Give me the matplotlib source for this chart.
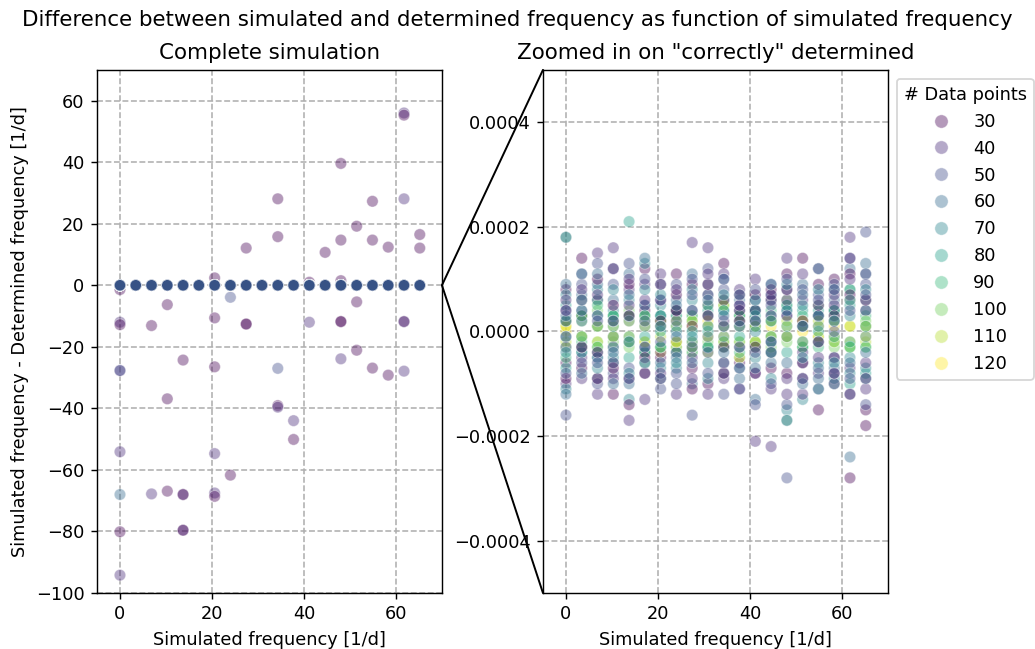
import numpy as np
import matplotlib.pyplot as plt
from matplotlib.patches import ConnectionPatch
from matplotlib.lines import Line2D

# simulated frequencies [1/d]
freqs = [0.0, 3.43, 6.86, 10.29, 13.72, 17.15, 20.58, 24.01, 27.44, 30.87,
         34.31, 37.74, 41.17, 44.6, 48.03, 51.46, 54.89, 58.32, 61.75, 65.18]
n_points = [30, 40, 50, 60, 70, 80, 90, 100, 110, 120]

# correctly determined runs: difference in units of 1e-5 1/d, one row per repetition
dev_30 = [[8, 14, 6, 12, -9, 12, -5, 11, 9, 5, 13, -6, -8, -7, 3, 14, -15, 10, -28, -18],
          [-6, -7, 10, -12, -14, 4, 9, -4, -7, -10, 6, 7, 4, 6, -8, -9, 9, -5, -12, -15],
          [2, -3, -9, 5, 3, -8, 2, 7, 1, 3, -3, 2, -3, 8, 11, 2, -2, 3, 7, -9],
          [-9, 6, -4, -7, 9, -5, -9, 4, -11, 9, -8, 4, 7, -4, 8, -6, 5, -8, 11, 6]]
dev_40 = [[-10, 3, 15, 16, 8, -13, 11, -2, 17, 16, 11, 8, 10, -11, 14, 6, 12, 8, 18, 11],
          [6, -5, -12, -9, -17, 9, -4, -12, -5, -12, -9, -11, -21, -22, -9, -12, -8, -10, -7, 4],
          [-1, 8, 3, 2, 5, -3, 6, 4, 4, 7, 2, -3, 2, 3, 6, -4, 3, 5, 14, -6],
          [4, -9, 7, -6, 10, 6, -8, 8, -9, 11, -6, 5, -8, 7, -12, 11, -5, 7, 10, -11]]
dev_50 = [[-16, 9, 13, -8, 13, 5, -11, 9, -16, 12, 8, 5, 6, 9, -28, 8, 7, 9, 14, 19],
          [4, -6, -10, 9, -7, -8, 6, -8, 10, -4, -12, -11, -14, 5, -14, -6, -11, -5, -12, -14],
          [-3, 4, 2, -3, 3, 2, -2, 2, -3, 3, 1, 2, -4, -2, 3, 1, -2, 0, 4, 9],
          [-8, 11, -6, 12, -9, 10, 9, -10, 7, -8, 10, -7, 8, -10, 10, -9, 6, -8, -9, 7]]
dev_60 = [[18, 7, 9, 6, 11, 14, 3, 6, 11, -3, 10, 6, -13, 7, 8, 9, 12, 6, 12, 13],
          [-12, -3, -9, -10, -10, 5, -6, -5, -10, 9, -8, -9, 4, -6, -17, -10, -9, -7, -24, 11],
          [3, 2, -5, 2, -2, -3, 1, -1, 4, -1, 3, 1, 2, -2, 4, 1, 3, 2, -6, -4],
          [9, -8, 11, -4, 7, -6, -9, 5, -6, 6, -4, 7, -7, 9, -6, 7, -7, 8, 6, -9]]
dev_70 = [[7, 11, 8, 4, -13, 13, 5, 3, 6, 7, 4, -5, 4, 6, -15, -13, -6, -9, 8, 6],
          [-11, -4, -5, -5, 6, -4, -7, -7, -2, -6, -6, 4, -5, -9, 5, 5, 3, 4, -5, -7],
          [-1, 3, 3, -1, 2, 1, 1, 0, -1, 1, -1, 1, 0, 2, -1, -2, 1, 2, 3, -1],
          [-4, 6, -7, 8, -8, 8, 7, -6, 8, -9, 7, -7, 6, -4, 9, -5, 8, -6, -8, 8]]
dev_80 = [[5, -4, 6, -6, 21, -4, -3, 4, -4, 4, -3, 3, -3, -4, 4, 4, -11, -10, -10, -8],
          [-7, 4, -4, 3, -5, 3, 3, -4, 3, -3, 4, -3, 3, 3, -4, -3, 4, 4, 5, 4],
          [2, -1, 1, 1, -1, -1, 0, 1, 0, 0, 1, -1, 1, -1, 1, 1, 0, -1, -2, 1]]
dev_90 = [[18, 3, 5, -3, 3, -6, 3, -3, -3, 5, 6, -4, 4, 4, -17, 3, 5, 3, 8, 3],
          [-5, -2, -3, 3, -2, 3, -3, 3, 2, -3, -2, 3, -2, -2, 5, -3, -3, -2, -3, -3]]
dev_100 = [[2, 2, 4, 3, 4, -4, 2, 4, -4, 3, 5, 3, 2, -3, 6, 2, 3, 4, 6, -3],
           [-3, -3, -2, -2, -3, 2, -3, -2, 3, -2, -3, -2, -3, 2, -2, -3, -2, -3, -3, 2]]
dev_110 = [[1, 3, -3, 2, -2, 3, 2, -3, -2, -4, 5, -2, 1, 2, 2, 1, -1, 2, -3, -2],
           [-2, -1, 1, -1, 3, -2, -1, 2, 2, 1, -2, 2, -2, -1, -1, -2, 2, -2, 1, 1]]
dev_120 = [[0, 3, -2, 1, -1, -2, -4, 1, -3, 2, -1, -5, -2, 1, 1, 0, -1, 1, -2, 1],
           [1, -1, 1, -1, 2, 1, 1, -2, 1, -1, 1, 1, 1, -1, -1, 2, 1, -1, 1, -1]]

# wrongly determined runs (index into freqs, difference [1/d], # data points)
out_idx = [18, 18, 14, 10, 18, 16, 15, 19, 10, 14, 16, 8, 17, 19, 13, 6, 14, 12,
           0, 7, 15, 3, 6, 0, 0, 2, 8, 8, 12, 14, 14, 18, 18,
           0, 0, 4, 6, 10, 14, 15, 16, 17, 18, 3, 10, 10, 11, 11, 0, 6, 7,
           0, 2, 3, 4, 4, 6, 6, 0, 4, 4, 0]
out_diff = [56.0, 55.3, 39.6, 28.1, 28.1, 27.3, 19.2, 16.5, 15.8, 14.7, 14.7, 12.1, 12.4, 12.1, 10.7, 2.4, 1.5, 1.0,
            -1.4, -3.9, -5.4, -6.3, -10.6, -12.0, -12.8, -13.1, -12.6, -12.6, -12.0, -11.8, -11.8, -11.8, -11.8,
            -27.7, -27.7, -24.3, -26.5, -27.0, -23.9, -21.1, -26.9, -29.2, -27.9, -36.9, -39.1, -39.6, -44.0, -50.1, -54.1, -54.7, -61.7,
            -68.0, -67.8, -66.9, -68.0, -68.0, -67.5, -68.6, -80.1, -79.6, -79.6, -94.2]
out_npts = [40, 30, 30, 30, 40, 30, 30, 30, 30, 30, 30, 30, 30, 30, 30, 30, 30, 30,
            30, 50, 30, 30, 30, 40, 30, 30, 30, 30, 40, 30, 30, 30, 40,
            40, 50, 30, 30, 50, 40, 30, 30, 30, 40, 30, 30, 40, 40, 30, 40, 40, 30,
            60, 40, 30, 40, 30, 40, 30, 30, 40, 30, 40]

devs = {30: dev_30, 40: dev_40, 50: dev_50, 60: dev_60, 70: dev_70,
        80: dev_80, 90: dev_90, 100: dev_100, 110: dev_110, 120: dev_120}
# order in which the runs were stored
run_order = [30, 80, 40, 100, 70, 120, 90, 110, 60, 50]

x, y, hue = [], [], []
for i in range(len(out_idx)):
    x.append(freqs[out_idx[i]])
    y.append(out_diff[i])
    hue.append(out_npts[i])
for rep in range(4):
    for n in run_order:
        d = devs[n]
        if rep < len(d):
            x += freqs
            y += [v * 1e-5 for v in d[rep]]
            hue += [n] * len(freqs)
x = np.array(x)
y = np.array(y)
hue = np.array(hue)

cmap = plt.cm.viridis
norm = plt.Normalize(min(n_points), max(n_points))
colors = cmap(norm(hue))

dpi = 128
fig = plt.figure(figsize=(1035 / dpi, 649 / dpi), dpi=dpi)
axL = fig.add_axes([0.0937, 0.0863, 0.3333, 0.806])
axR = fig.add_axes([0.5246, 0.0863, 0.3333, 0.806])

for ax in (axL, axR):
    ax.scatter(x, y, c=colors, s=42, alpha=0.4, edgecolors='white', linewidths=0.5)
    ax.grid(True, linestyle='--', color='#b0b0b0', linewidth=0.9)
    ax.set_axisbelow(True)
    ax.set_xlim(-5, 70)
    ax.set_xlabel('Simulated frequency [1/d]')

axL.set_ylim(-100, 70)
axR.set_ylim(-0.0005, 0.0005)
axR.set_yticks([-0.0004, -0.0002, 0.0, 0.0002, 0.0004])
axL.set_ylabel('Simulated frequency - Determined frequency [1/d]')
axL.set_title('Complete simulation', fontsize=12)
axR.set_title('Zoomed in on "correctly" determined', fontsize=12)
fig.suptitle('Difference between simulated and determined frequency as function of simulated frequency',
             fontsize=12, y=0.985)

# zoom lines
for yr in (0.0005, -0.0005):
    con = ConnectionPatch(xyA=(70, 0), coordsA=axL.transData,
                          xyB=(-5, yr), coordsB=axR.transData,
                          color='black', linewidth=1.1)
    fig.add_artist(con)

handles = [Line2D([], [], marker='o', linestyle='', markersize=7.5, alpha=0.4,
                  markerfacecolor=cmap(norm(n)), markeredgecolor='white', markeredgewidth=0.5)
           for n in n_points]
axR.legend(handles, [str(n) for n in n_points], title='# Data points',
           loc='upper left', bbox_to_anchor=(1.0, 1.0))

fig.savefig('out.png', dpi=dpi)
